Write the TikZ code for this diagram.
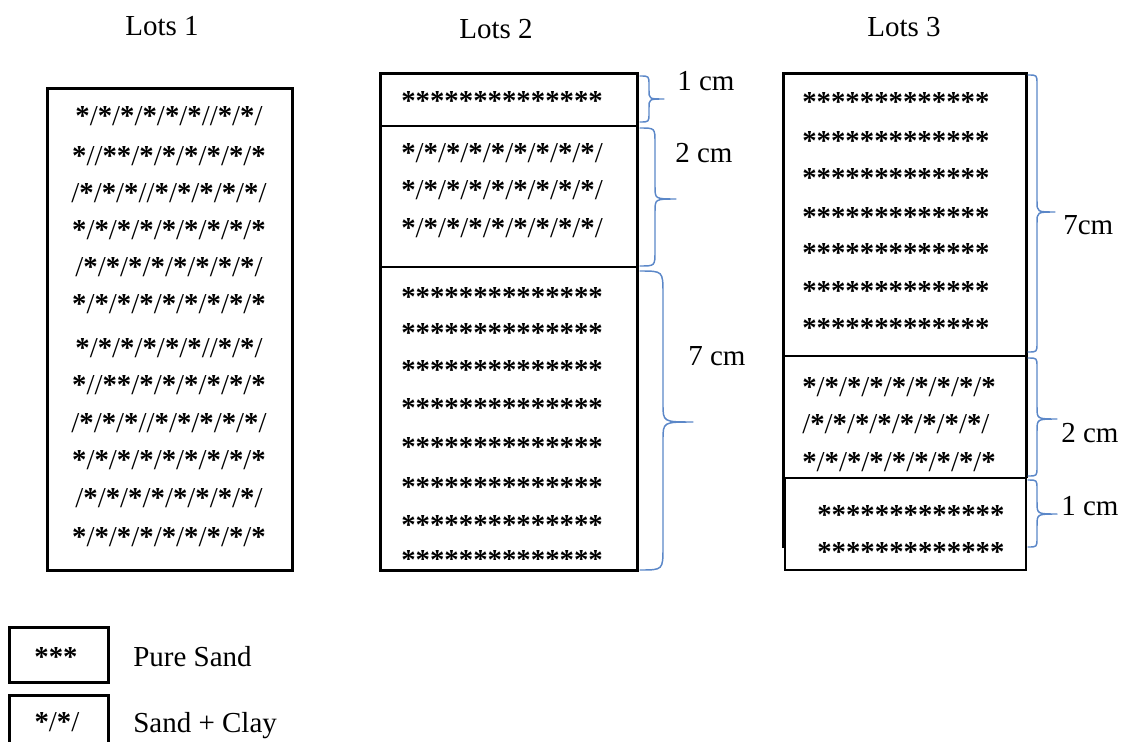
\documentclass[tikz,border=0pt]{standalone}
\usepackage{fontspec}
\setmainfont{Liberation Serif}
\definecolor{braceblue}{RGB}{91,135,200}
% right-hand curly brace: start x, stem x, tip x, top y, tip y, bottom y
\newcommand\sidebrace[6]{%
  \pgfmathsetmacro\endr{#2-#1}%
  \pgfmathsetmacro\tipr{0.6*(#3-#2)}%
  \draw[bracket] (#1,#4) .. controls (#2,#4) .. (#2,#4+\endr)
    -- (#2,#5-\tipr) .. controls (#2,#5) .. (#3,#5)
    .. controls (#2,#5) .. (#2,#5+\tipr)
    -- (#2,#6-\endr) .. controls (#2,#6) .. (#1,#6);%
}
% soil pattern row: asterisks heavy, slashes light
\def\soilrow#1{\soilrowstep#1\relax}
\def\soilrowstep#1{\ifx#1\relax\else\ifx#1*{\bfseries*}\else#1\fi\expandafter\soilrowstep\fi}
\begin{document}
\begin{tikzpicture}[x=0.75pt,y=-0.75pt,
  txt/.style={font=\fontsize{21.75}{26}\selectfont, inner sep=0pt, anchor=base west},
  ttl/.style={txt, anchor=base},
  soil/.style={font=\fontsize{21.6}{26}\selectfont, inner sep=0pt, anchor=base west},
  soilc/.style={soil, anchor=base},
  thickbox/.style={line width=2.25pt},
  divider/.style={line width=1.4pt},
  thinline/.style={line width=1.1pt},
  bracket/.style={draw=braceblue, line width=1.1pt, line cap=round, line join=round},
]
\useasboundingbox (0,0) rectangle (1121,742);

% ---------- titles ----------
\node[ttl] (t1) at (162,36) {Lots 1};
\node[ttl] (t2) at (496,39) {Lots 2};
\node[ttl] (t3) at (904,37) {Lots 3};

% ---------- Lots 1: sand + clay throughout ----------
\draw[thickbox] (47,89) rectangle (292,570);
\node[soilc] (a1)  at (169,126) {\soilrow{*/*/*/*/*/*//*/*/}};
\node[soilc] (a2)  at (169,165) {\soilrow{*//**/*/*/*/*/*/*}};
\node[soilc] (a3)  at (169,202) {\soilrow{/*/*/*//*/*/*/*/*/}};
\node[soilc] (a4)  at (169,239) {\soilrow{*/*/*/*/*/*/*/*/*}};
\node[soilc] (a5)  at (169,276) {\soilrow{/*/*/*/*/*/*/*/*/}};
\node[soilc] (a6)  at (169,313) {\soilrow{*/*/*/*/*/*/*/*/*}};
\node[soilc] (a7)  at (169,357) {\soilrow{*/*/*/*/*/*//*/*/}};
\node[soilc] (a8)  at (169,394) {\soilrow{*//**/*/*/*/*/*/*}};
\node[soilc] (a9)  at (169,432) {\soilrow{/*/*/*//*/*/*/*/*/}};
\node[soilc] (a10) at (169,469) {\soilrow{*/*/*/*/*/*/*/*/*}};
\node[soilc] (a11) at (169,507) {\soilrow{/*/*/*/*/*/*/*/*/}};
\node[soilc] (a12) at (169,546) {\soilrow{*/*/*/*/*/*/*/*/*}};

% ---------- Lots 2: sand / sand+clay / sand ----------
\draw[thickbox] (380,74) rectangle (637,570);
\draw[divider] (380,126) -- (637,126);
\draw[divider] (380,267) -- (637,267);
\node[soil] (b1) at (401,111) {\soilrow{**************}};
\node[soil] (b2) at (401,162) {\soilrow{*/*/*/*/*/*/*/*/*/}};
\node[soil] (b3) at (401,199) {\soilrow{*/*/*/*/*/*/*/*/*/}};
\node[soil] (b4) at (401,237) {\soilrow{*/*/*/*/*/*/*/*/*/}};
\node[soil] (b5)  at (401,306) {\soilrow{**************}};
\node[soil] (b6)  at (401,342) {\soilrow{**************}};
\node[soil] (b7)  at (401,379) {\soilrow{**************}};
\node[soil] (b8)  at (401,417) {\soilrow{**************}};
\node[soil] (b9)  at (401,456) {\soilrow{**************}};
\node[soil] (b10) at (401,496) {\soilrow{**************}};
\node[soil] (b11) at (401,534) {\soilrow{**************}};
\begin{scope}
  \clip (382,545) rectangle (635,559);
  \node[soil] (b12) at (401,569) {\soilrow{**************}};
\end{scope}

\sidebrace{640}{649}{664}{76}{99}{122}
\sidebrace{640}{655}{676}{128}{199}{266}
\sidebrace{640}{663}{693}{271}{422}{570}
\node[txt] (c1) at (677,90)  {1 cm};
\node[txt] (c2) at (675,162) {2 cm};
\node[txt] (c3) at (688,365) {7 cm};

% ---------- Lots 3: sand / sand+clay / sand ----------
\draw[thickbox] (783,548) -- (783,74) -- (1026,74) -- (1026,478);
\draw[thinline] (783,356) -- (1026,356);
\draw[thinline, fill=white] (785,478) rectangle (1026,570);
\node[soil] (d1) at (802,112) {\soilrow{*************}};
\node[soil] (d2) at (802,150) {\soilrow{*************}};
\node[soil] (d3) at (802,187) {\soilrow{*************}};
\node[soil] (d4) at (802,226) {\soilrow{*************}};
\node[soil] (d5) at (802,262) {\soilrow{*************}};
\node[soil] (d6) at (802,300) {\soilrow{*************}};
\node[soil] (d7) at (802,337) {\soilrow{*************}};
\node[soil] (d8)  at (802,396) {\soilrow{*/*/*/*/*/*/*/*/*}};
\node[soil] (d9)  at (802,433) {\soilrow{/*/*/*/*/*/*/*/*/}};
\node[soil] (d10) at (802,471) {\soilrow{*/*/*/*/*/*/*/*/*}};
\node[soil] (d11) at (817,524) {\soilrow{*************}};
\node[soil] (d12) at (817,561) {\soilrow{*************}};

\sidebrace{1028}{1037}{1055}{75}{212}{352}
\sidebrace{1028}{1037}{1057}{358}{419}{476}
\sidebrace{1028}{1037}{1057}{480}{514}{547}
\node[txt] (e1) at (1063,234) {7cm};
\node[txt] (e2) at (1061,442) {2 cm};
\node[txt] (e3) at (1061,515) {1 cm};

% ---------- legend ----------
\draw[thickbox] (9,627) rectangle (108,682);
\node[soilc] (k1) at (56,666) {\soilrow{***}};
\node[txt] (k1t) at (133,666) {Pure Sand};
\draw[thickbox] (9,695) rectangle (108,752);
\node[soilc] (k2) at (57,731) {\soilrow{*/*/}};
\node[txt] (k2t) at (133,732) {Sand + Clay};
\end{tikzpicture}
\end{document}
